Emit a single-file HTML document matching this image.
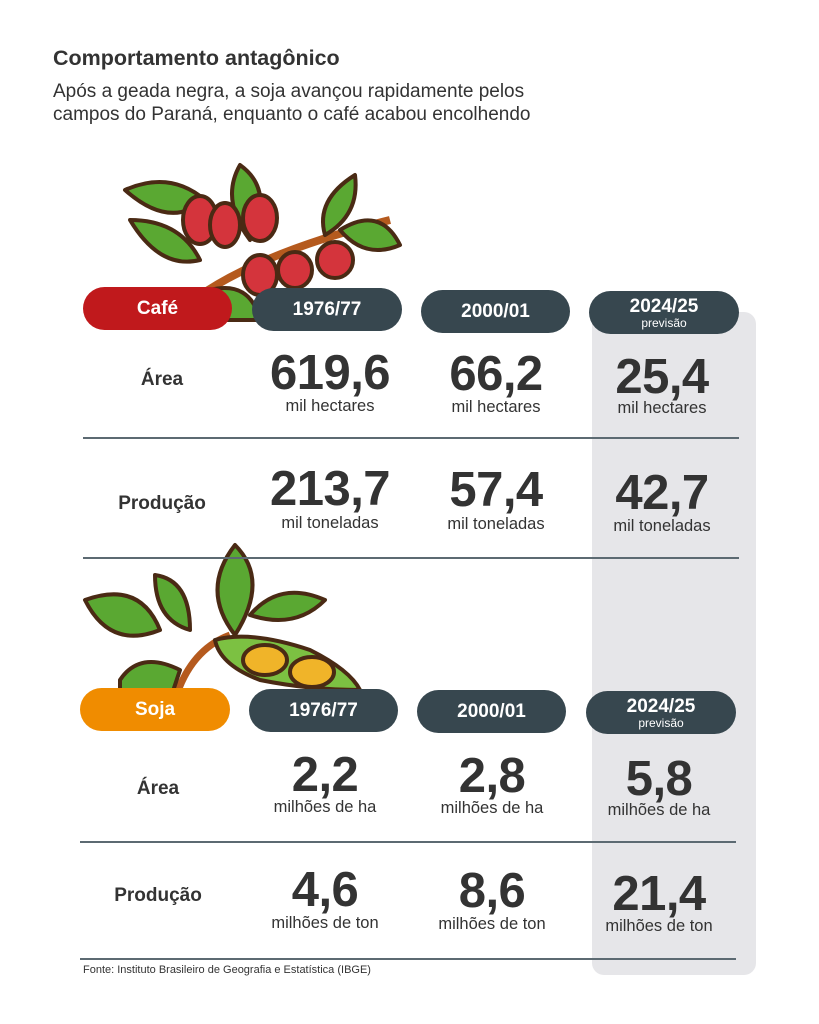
<!DOCTYPE html>
<html><head><meta charset="utf-8"><style>
body{margin:0;width:819px;height:1024px;background:#fff;position:relative;font-family:"Liberation Sans",sans-serif;color:#333;overflow:hidden}
.a{position:absolute}
.pill{position:absolute;height:43px;border-radius:22px;background:#37474f;color:#fff;font-weight:bold;font-size:19px;text-align:center;line-height:43px}
.lab{position:absolute;width:160px;text-align:center;font-weight:bold;font-size:19px;color:#333}
.num{position:absolute;width:170px;text-align:center;font-weight:bold;font-size:49px;color:#333;line-height:50px;letter-spacing:-0.5px}
.unit{position:absolute;width:170px;text-align:center;font-size:16.5px;color:#333}
.line{position:absolute;left:83px;width:656px;height:2px;background:#5c6a72}
</style></head><body>
<div class="a" style="left:592px;top:312px;width:164px;height:663px;background:#e6e6e9;border-radius:12px"></div>
<div class="a" style="left:53px;top:46px;font-weight:bold;font-size:21.5px;color:#333">Comportamento antagônico</div>
<div class="a" style="left:53px;top:80px;font-size:19px;line-height:23px;color:#333">Após a geada negra, a soja avançou rapidamente pelos<br>campos do Paraná, enquanto o café acabou encolhendo</div>

<svg class="a" style="left:110px;top:160px" width="300" height="165" viewBox="0 0 300 165">
<g stroke="#4a2a14" stroke-width="4" stroke-linejoin="round">
<path d="M60 160 Q120 100 280 60" fill="none" stroke="#b55a1e" stroke-width="8"/>
<path d="M15 30 Q60 10 95 40 Q60 70 15 30Z" fill="#5aa832"/>
<path d="M20 60 Q50 110 90 100 Q70 60 20 60Z" fill="#5aa832"/>
<path d="M130 5 Q165 30 140 80 Q110 40 130 5Z" fill="#5aa832"/>
<path d="M245 15 Q250 55 215 75 Q205 40 245 15Z" fill="#5aa832"/>
<path d="M230 70 Q270 45 290 85 Q255 100 230 70Z" fill="#5aa832"/>
<path d="M100 130 Q140 120 150 160 L110 160Z" fill="#5aa832"/>
<ellipse cx="90" cy="60" rx="17" ry="24" fill="#d4343c"/>
<ellipse cx="115" cy="65" rx="15" ry="22" fill="#d4343c"/>
<ellipse cx="150" cy="58" rx="17" ry="23" fill="#d4343c"/>
<ellipse cx="225" cy="100" rx="18" ry="18" fill="#d4343c"/>
<ellipse cx="150" cy="115" rx="17" ry="20" fill="#d4343c"/>
<ellipse cx="185" cy="110" rx="17" ry="18" fill="#d4343c"/>
</g></svg>

<svg class="a" style="left:80px;top:540px" width="290" height="160" viewBox="0 0 290 160">
<g stroke="#4a2a14" stroke-width="4" stroke-linejoin="round">
<path d="M95 160 Q110 110 150 95" fill="none" stroke="#b55a1e" stroke-width="7"/>
<path d="M5 60 Q60 40 80 90 Q30 110 5 60Z" fill="#5aa832"/>
<path d="M75 35 Q110 40 110 90 Q75 80 75 35Z" fill="#5aa832"/>
<path d="M155 5 Q190 40 155 95 Q120 50 155 5Z" fill="#5aa832"/>
<path d="M170 75 Q200 40 245 60 Q215 90 170 75Z" fill="#5aa832"/>
<path d="M40 140 Q60 110 100 130 L90 160 L40 160Z" fill="#5aa832"/>
<path d="M135 100 Q170 90 230 110 Q270 130 280 150 Q230 150 180 140 Q140 125 135 100Z" fill="#7cc142"/>
<ellipse cx="185" cy="120" rx="22" ry="15" fill="#f0b429"/>
<ellipse cx="232" cy="132" rx="22" ry="15" fill="#f0b429"/>
</g></svg>

<div class="pill" style="left:83px;top:287px;width:149px;background:#c0191c">Café</div>
<div class="pill" style="left:252px;top:288px;width:150px">1976/77</div>
<div class="pill" style="left:421px;top:290px;width:149px">2000/01</div>
<div class="pill" style="left:589px;top:291px;width:150px;line-height:22px;padding-top:0"><div style="padding-top:5px">2024/25</div><div style="font-size:12px;font-weight:normal;line-height:10px">previsão</div></div>

<div class="lab" style="left:82px;top:369px">Área</div>
<div class="num" style="left:245px;top:348px">619,6</div><div class="unit" style="left:245px;top:397px">mil hectares</div>
<div class="num" style="left:411px;top:349px">66,2</div><div class="unit" style="left:411px;top:398px">mil hectares</div>
<div class="num" style="left:577px;top:352px">25,4</div><div class="unit" style="left:577px;top:399px">mil hectares</div>
<div class="line" style="top:437px"></div>
<div class="lab" style="left:82px;top:493px">Produção</div>
<div class="num" style="left:245px;top:464px">213,7</div><div class="unit" style="left:245px;top:514px">mil toneladas</div>
<div class="num" style="left:411px;top:465px">57,4</div><div class="unit" style="left:411px;top:515px">mil toneladas</div>
<div class="num" style="left:577px;top:468px">42,7</div><div class="unit" style="left:577px;top:517px">mil toneladas</div>
<div class="line" style="top:557px"></div>

<div class="pill" style="left:80px;top:688px;width:150px;background:#f08c00">Soja</div>
<div class="pill" style="left:249px;top:689px;width:149px">1976/77</div>
<div class="pill" style="left:417px;top:690px;width:149px">2000/01</div>
<div class="pill" style="left:586px;top:691px;width:150px;line-height:22px"><div style="padding-top:5px">2024/25</div><div style="font-size:12px;font-weight:normal;line-height:10px">previsão</div></div>

<div class="lab" style="left:78px;top:778px">Área</div>
<div class="num" style="left:240px;top:750px">2,2</div><div class="unit" style="left:240px;top:798px">milhões de ha</div>
<div class="num" style="left:407px;top:751px">2,8</div><div class="unit" style="left:407px;top:799px">milhões de ha</div>
<div class="num" style="left:574px;top:754px">5,8</div><div class="unit" style="left:574px;top:801px">milhões de ha</div>
<div class="line" style="top:841px;left:80px"></div>
<div class="lab" style="left:78px;top:885px">Produção</div>
<div class="num" style="left:240px;top:865px">4,6</div><div class="unit" style="left:240px;top:914px">milhões de ton</div>
<div class="num" style="left:407px;top:866px">8,6</div><div class="unit" style="left:407px;top:915px">milhões de ton</div>
<div class="num" style="left:574px;top:869px">21,4</div><div class="unit" style="left:574px;top:917px">milhões de ton</div>
<div class="line" style="top:958px;left:80px"></div>
<div class="a" style="left:83px;top:964px;font-size:11px;color:#333">Fonte: Instituto Brasileiro de Geografia e Estatística (IBGE)</div>
</body></html>
